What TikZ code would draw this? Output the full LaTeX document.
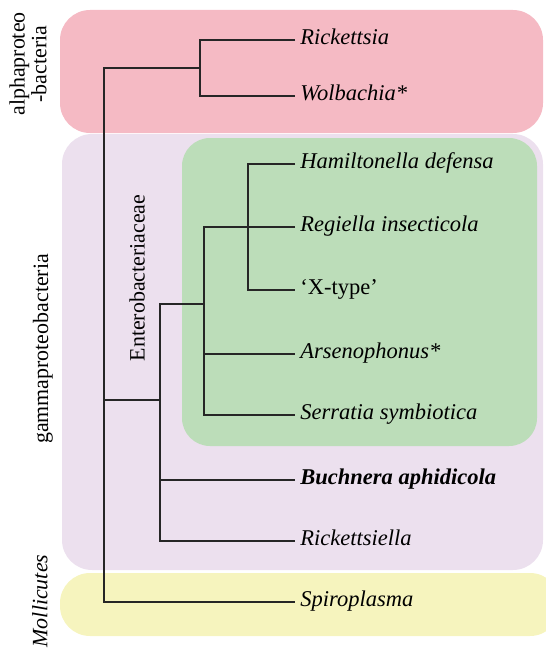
\documentclass[tikz,border=0pt]{standalone}
\usepackage{fontspec}
\setmainfont{Liberation Serif}
\usepackage{tikz}
\usetikzlibrary{calc}
\definecolor{alphapink}{RGB}{245,186,196}
\definecolor{gammalilac}{RGB}{236,224,238}
\definecolor{enterogreen}{RGB}{188,221,185}
\definecolor{molliyellow}{RGB}{246,244,190}
\tikzstyle{taxon}=[anchor=west, inner sep=2.5bp, font=\fontsize{11.3}{13}\selectfont\itshape, text height=7.5pt, text depth=2.5pt]
\tikzstyle{grouplab}=[rotate=90, inner sep=0pt, font=\fontsize{11}{11}\selectfont, align=center]
\tikzstyle{branch}=[line width=0.9pt, black!85]
\tikzstyle{clade}=[rounded corners=15bp]

\begin{document}
\begin{tikzpicture}
        [x=0.5bp,y=-0.5bp]
            \useasboundingbox (0,0) rectangle (546,648);
            % shaded groups
            \fill [clade, gammalilac] (62,134) rectangle (543,570);
            \fill [clade, alphapink] (60,10) rectangle (543,133);
            \fill [clade, enterogreen, rounded corners=14bp] (182,138) rectangle (537,446);
            \fill [clade, molliyellow] (60,573) rectangle (560,636);
            % taxa
            \node [taxon] (rick) at (295,40) {Rickettsia};
            \node [taxon] (wolb) at (295,96) {Wolbachia*};
            \node [taxon] (hami) at (295,164) {Hamiltonella defensa};
            \node [taxon] (regi) at (295,227) {Regiella insecticola};
            \node [taxon, font=\fontsize{11.3}{13}\selectfont] (xtyp) at (295,290) {`X-type'};
            \node [taxon] (arse) at (295,354) {Arsenophonus*};
            \node [taxon] (serr) at (295,415) {Serratia symbiotica};
            \node [taxon, font=\fontsize{11.3}{13}\selectfont\bfseries\itshape] (buch) at (295,480) {Buchnera aphidicola};
            \node [taxon] (rkla) at (295,541) {Rickettsiella};
            \node [taxon] (spir) at (295,602) {Spiroplasma};
            % group names
            \node [grouplab] (alphalab) at (28,64) {alphaproteo\\-bacteria};
            \node [grouplab] (gammalab) at (43,349) {gammaproteobacteria};
            \node [grouplab] (enterolab) at (137,278) {Enterobacteriaceae};
            \node [grouplab, font=\fontsize{11}{11}\selectfont\itshape] (mollilab) at (40,601) {Mollicutes};
            % inner nodes of the tree
            \coordinate (root) at (104,68);
            \coordinate (alpha) at (200,68);
            \coordinate (gam) at (160,400);
            \coordinate (entero) at (204,304);
            \coordinate (hamx) at (248,227);
            % branches
            \draw [branch] (rick.west) -| (alpha) |- (wolb.west);
            \draw [branch] (alpha) -- (root) |- (spir.west);
            \draw [branch] (gam) -- (gam -| root);
            \draw [branch] (entero) -| (gam) |- (rkla.west);
            \draw [branch] (gam) |- (buch.west);
            \draw [branch] (regi.west) -| (entero) |- (serr.west);
            \draw [branch] (entero) |- (arse.west);
            \draw [branch] (hami.west) -| (hamx) |- (xtyp.west);
        \end{tikzpicture}
\end{document}
